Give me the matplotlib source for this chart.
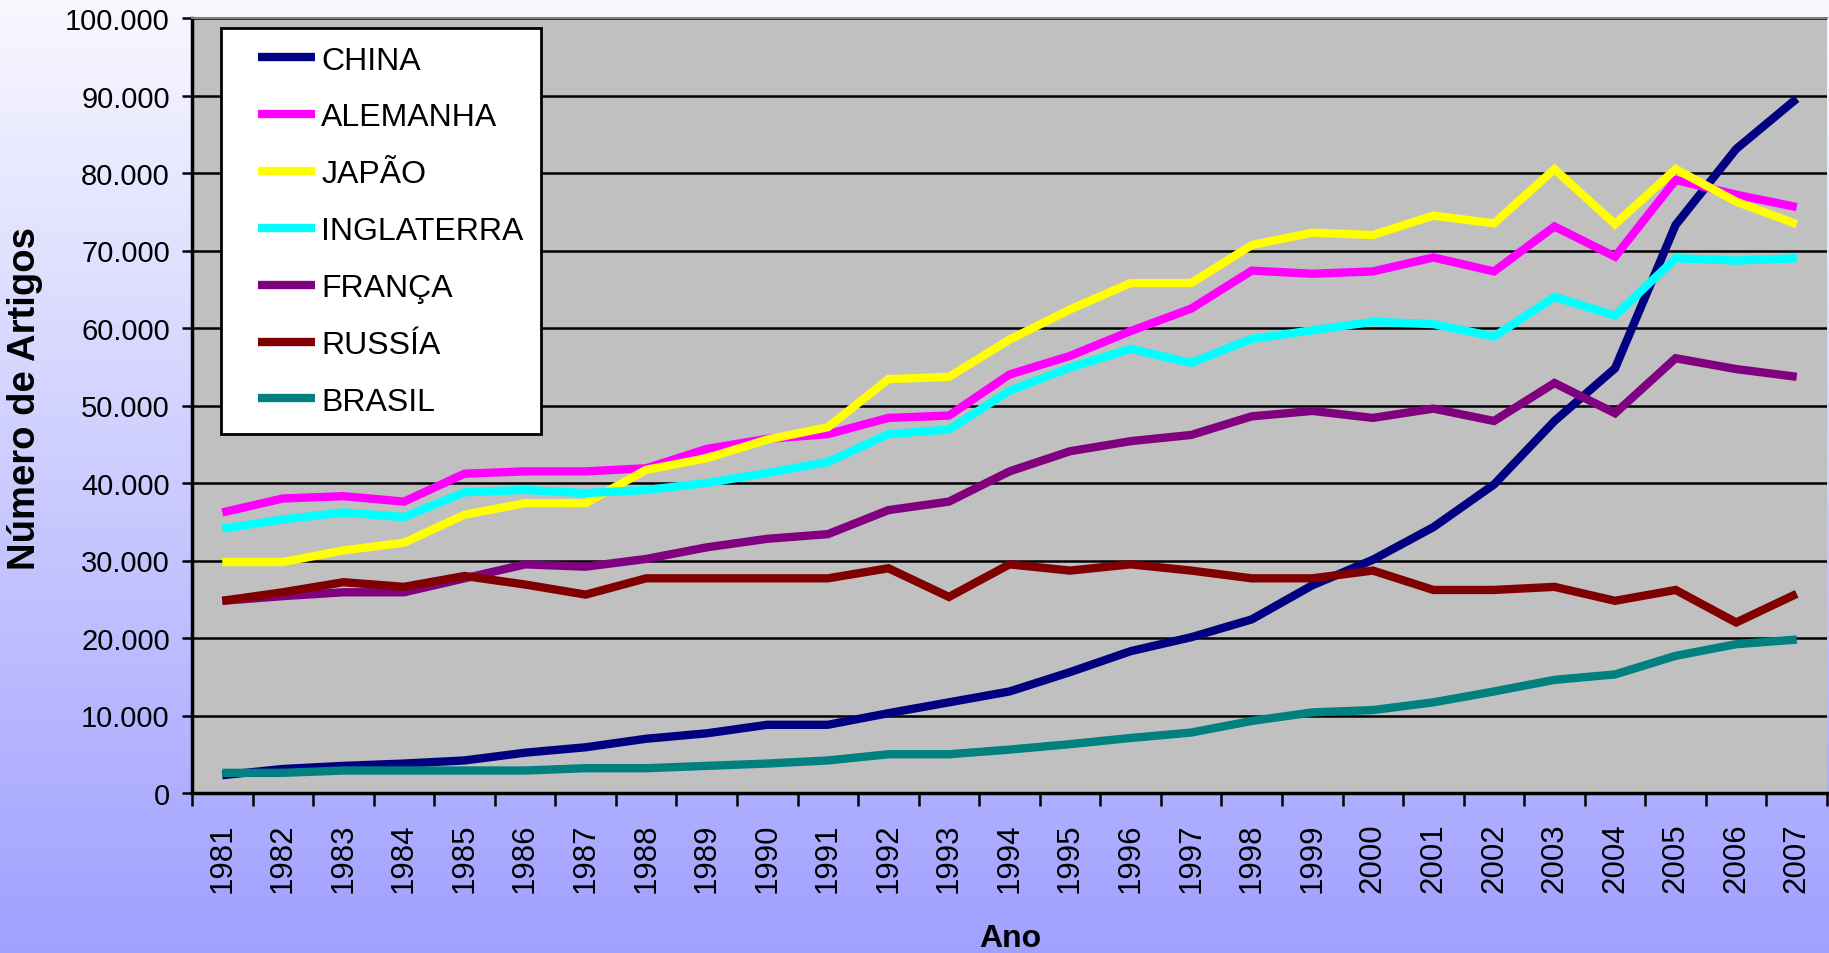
import matplotlib
matplotlib.use('Agg')
import matplotlib.pyplot as plt
import numpy as np
from matplotlib import font_manager
from matplotlib.legend_handler import HandlerLine2D
from matplotlib.ticker import FuncFormatter, MultipleLocator

# data
anos = list(range(1981, 2008))
china = [2300, 3100, 3500, 3800, 4200, 5200, 5900, 7000, 7700, 8800, 8800, 10300, 11700, 13100,
         15600, 18300, 20100, 22400, 26800, 30100, 34300, 39800, 48000, 54800, 73300, 83100, 89600]
alemanha = [36200, 38000, 38300, 37600, 41200, 41500, 41500, 41900, 44400, 45700, 46300, 48400, 48700, 54000,
            56400, 59600, 62500, 67400, 67000, 67300, 69100, 67300, 73100, 69200, 79100, 77200, 75600]
japao = [29800, 29800, 31300, 32300, 35900, 37400, 37400, 41700, 43200, 45600, 47200, 53400, 53700, 58500,
         62400, 65800, 65800, 70700, 72300, 72000, 74500, 73500, 80500, 73400, 80500, 76300, 73400]
inglaterra = [34100, 35300, 36200, 35600, 38800, 39100, 38700, 39100, 40000, 41300, 42700, 46300, 46900, 51900,
              54900, 57300, 55500, 58600, 59700, 60800, 60500, 58900, 64000, 61600, 69000, 68700, 69000]
franca = [24800, 25400, 25900, 25900, 27700, 29500, 29200, 30200, 31700, 32800, 33400, 36500, 37600, 41500,
          44100, 45400, 46200, 48600, 49300, 48400, 49600, 48000, 52900, 49000, 56100, 54700, 53700]
russia = [24800, 25900, 27200, 26600, 28000, 26900, 25600, 27700, 27700, 27700, 27700, 29000, 25300, 29500,
          28700, 29500, 28700, 27700, 27700, 28700, 26200, 26200, 26600, 24800, 26200, 22000, 25700]
brasil = [2600, 2600, 2900, 2900, 2900, 2900, 3200, 3200, 3500, 3800, 4200, 5000, 5000, 5600,
          6300, 7100, 7800, 9300, 10400, 10700, 11700, 13100, 14600, 15300, 17700, 19200, 19800]

paises = ['CHINA', 'ALEMANHA', 'JAPÃO', 'INGLATERRA', 'FRANÇA', 'RUSSÍA', 'BRASIL']
series = [china, alemanha, japao, inglaterra, franca, russia, brasil]
cores = ['#000080', '#FF00FF', '#FFFF00', '#00FFFF', '#800080', '#800000', '#008080']

# narrow font if the system has it
nomes = {f.name for f in font_manager.fontManager.ttflist}
fonte = 'Liberation Sans'
narrow = 'Liberation Sans Narrow' if 'Liberation Sans Narrow' in nomes else None
fonte_estreita = narrow if narrow else fonte
tam_ytick = 24 if narrow else 21
tam_leg = 26 if narrow else 23

plt.rcParams['font.family'] = fonte


class HandlerRecuado(HandlerLine2D):
    # legend line drawn only on the right part of the handle box (left indent like Excel)
    def get_xdata(self, legend, xdescent, ydescent, width, height, fontsize):
        x0 = -xdescent + width * 0.26
        x1 = -xdescent + width
        return np.array([x0, x1]), np.array([x0, x1])


fig = plt.figure(figsize=(18.29, 9.54), dpi=100)

# gradient background
bg = fig.add_axes([0, 0, 1, 1], zorder=-10)
topo = np.array([248, 248, 255]) / 255
base = np.array([160, 160, 255]) / 255
t = np.linspace(0, 1, 256)[:, None]
grad = (topo[None, :] * (1 - t) + base[None, :] * t)[:, None, :]
bg.imshow(grad, aspect='auto', extent=[0, 1, 0, 1])
bg.axis('off')

ax = fig.add_axes([192 / 1829, 160 / 954, 1635 / 1829, 775 / 954])
ax.set_facecolor('#C0C0C0')

x = np.arange(len(anos))
for nome, vals, cor in zip(paises, series, cores):
    ax.plot(x, vals, color=cor, lw=6, label=nome, solid_capstyle='butt', solid_joinstyle='miter', zorder=3)

ax.set_xlim(-0.5, len(anos) - 0.5)
ax.set_ylim(0, 100000)

ax.yaxis.set_major_locator(MultipleLocator(10000))
ax.yaxis.set_major_formatter(FuncFormatter(lambda v, p: f'{int(v):,}'.replace(',', '.')))
ax.grid(axis='y', color='black', lw=1.8, zorder=1)
ax.set_axisbelow(True)

ax.set_xticks(x)
ax.set_xticklabels([str(a) for a in anos], rotation=90, fontsize=22.5)
ax.set_xticks(np.arange(-0.5, len(anos)), minor=True)
ax.tick_params(axis='x', which='major', length=0, pad=21)
ax.tick_params(axis='x', which='minor', length=9, width=1.8, direction='out')
ax.tick_params(axis='y', length=7, width=1.8, pad=9, labelsize=tam_ytick)
for lab in ax.get_yticklabels():
    lab.set_fontfamily(fonte_estreita)

ax.spines['left'].set_linewidth(2.5)
ax.spines['bottom'].set_linewidth(2.5)
ax.spines['top'].set_color('#808080')
ax.spines['top'].set_linewidth(1.5)
ax.spines['right'].set_visible(False)

leg = ax.legend(loc='upper left', bbox_to_anchor=(0.0177, 0.987),
                prop={'family': fonte_estreita, 'size': tam_leg},
                frameon=True, fancybox=False, edgecolor='black', facecolor='white', framealpha=1,
                handlelength=2.39, handletextpad=0.2, labelspacing=0.84, borderpad=0.55,
                borderaxespad=0, handler_map={plt.Line2D: HandlerRecuado()})
leg.get_frame().set_linewidth(2)
for h in leg.get_lines():
    h.set_linewidth(6)

fig.text(25 / 1829, (954 - 398) / 954, 'Número de Artigos', rotation=90, ha='center', va='center',
         fontsize=27.5, fontweight='bold')
fig.text(1010 / 1829, 7 / 954, 'Ano', ha='center', va='baseline', fontsize=23, fontweight='bold')

fig.savefig('out.png', dpi=100)
